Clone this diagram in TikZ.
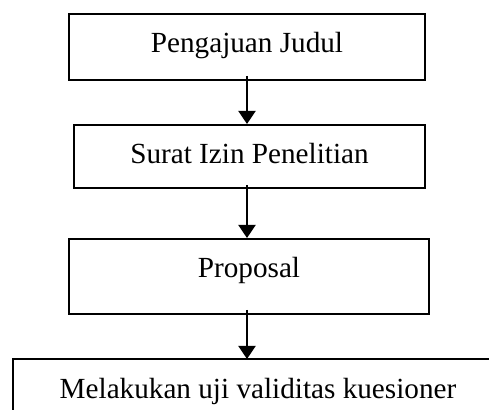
\documentclass[tikz,border=0pt]{standalone}
\usepackage{fontspec}
\setmainfont{Liberation Serif}
\usetikzlibrary{arrows.meta,positioning,calc}

\tikzset{
  stepbox/.style={draw, line width=1pt, inner sep=0pt, anchor=north west,
    text height=19.5pt, font=\fontsize{14.6}{17}\selectfont},
  flow/.style={-{Triangle[width=8.5pt,length=6.5pt]}, line width=1pt}
}

\begin{document}
\begin{tikzpicture}[x=0.5pt,y=-0.5pt]
\useasboundingbox (0,0) rectangle (489,410);
\clip (0,0) rectangle (489,410);
\node[stepbox, minimum width=178pt, text depth=13.5pt] (judul) at (68,13) {Pengajuan Judul};
\node[stepbox, minimum width=175.5pt, text depth=12pt] (izin) at (73,124) {Surat Izin Penelitian};
\node[stepbox, minimum width=180pt, text depth=18pt] (proposal) at (68,238) {Proposal};
\node[stepbox, draw=none, minimum width=244pt, text depth=16pt] (uji) at (13,359) {Melakukan uji validitas kuesioner};
\draw[line width=1pt] (uji.south west) |- ($(uji.north east)+(30pt,0)$);
% alur
\draw[flow] ([yshift=2.5pt]judul.south) -- (judul.south |- izin.north);
\draw[flow] ([yshift=2pt]izin.south -| judul.south) -- (judul.south |- proposal.north);
\draw[flow] ([yshift=2.5pt]proposal.south -| judul.south) -- (judul.south |- uji.north);
\end{tikzpicture}
\end{document}
